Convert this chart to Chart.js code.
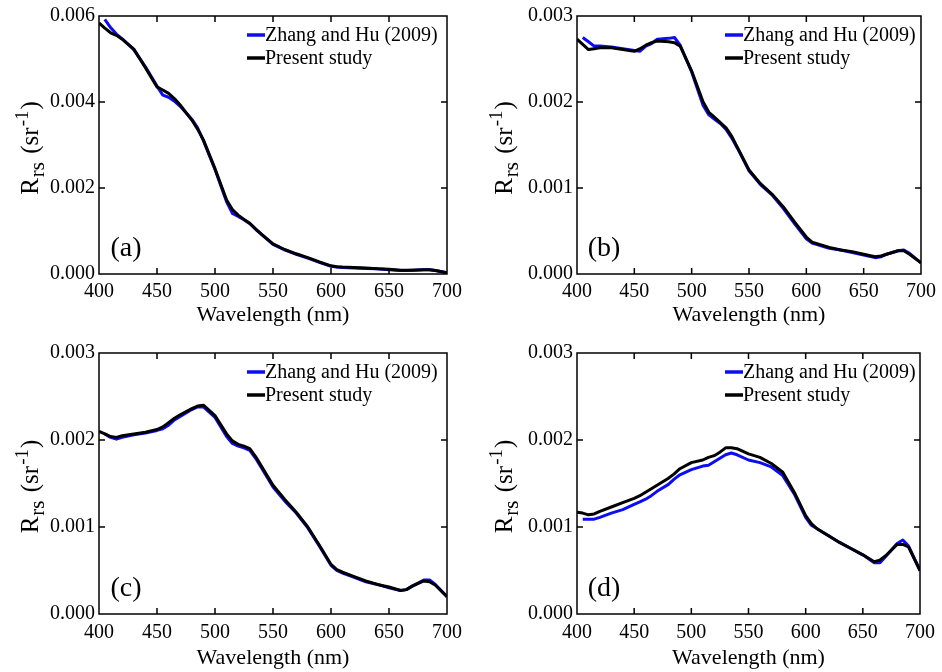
<!DOCTYPE html>
<html lang="en">
<head>
<meta charset="UTF-8">
<title>Rrs spectra</title>
<script src="https://cdn.jsdelivr.net/npm/chart.js"></script>
<style>
  body { margin: 0; background: #fff; }
  #wrap { position: relative; width: 942px; height: 672px; background: #fff; }
  .panel { position: absolute; width: 471px; height: 336px; }
  canvas { background: #fff; }
</style>
</head>
<body>
<div id="wrap">
  <div class="panel" style="left:0;top:0"><canvas id="pa" width="471" height="336"></canvas></div>
  <div class="panel" style="left:471px;top:0"><canvas id="pb" width="471" height="336"></canvas></div>
  <div class="panel" style="left:0;top:336px"><canvas id="pc" width="471" height="336"></canvas></div>
  <div class="panel" style="left:471px;top:336px"><canvas id="pd" width="471" height="336"></canvas></div>
</div>

<script>
// wavelengths (nm) shared by all panels
var wavelengths = [400,405,410,415,420,430,440,450,455,460,465,470,480,485,490,500,510,515,520,525,530,535,540,550,560,570,580,590,600,605,610,620,630,640,650,660,665,670,680,685,690,700]

var seriesNames = ['Zhang and Hu (2009)', 'Present study']
var xTicks = [400, 450, 500, 550, 600, 650, 700]

// (a)
var zhangA = [null,.00592,.00573,.00558,.00547,.00522,.00482,.00437,.00416,.00411,.00402,.00390,.00360,.00340,.00310,.00243,.00168,.00141,.00134,.00126,.00117,.00104,.00092,.00069,.00056,.00046,.00037,.00027,.00018,.00016,.00015,.00014,.00013,.00012,.00010,.00008,.00008,.00009,.00010,.00010,.00008,.00003]
var presentA = [.00584,.00572,.00561,.00555,.00546,.00523,.00480,.00435,.00428,.00420,.00408,.00393,.00358,.00337,.00312,.00245,.00172,.00150,.00137,.00127,.00118,.00105,.00093,.00070,.00057,.00047,.00038,.00028,.00019,.00017,.00016,.00015,.00014,.00012,.00011,.00009,.00009,.00009,.00010,.00010,.00008,.00003]

// (b)
var zhangB = [null,.00275,.00270,.00265,.00265,.00264,.00262,.00260,.00259,.00265,.00268,.00273,.00274,.00275,.00266,.00235,.00196,.00185,.00180,.00175,.00168,.00158,.00146,.00120,.00104,.00092,.00076,.00058,.00041,.00036,.00034,.00030,.00028,.00025,.00022,.00019,.00020,.00023,.00027,.00028,.00024,.00013]
var presentB = [.00273,.00267,.00261,.00262,.00263,.00263,.00261,.00259,.00262,.00266,.00269,.00271,.00270,.00269,.00265,.00236,.00200,.00188,.00182,.00176,.00170,.00160,.00147,.00121,.00105,.00093,.00078,.00060,.00043,.00037,.00035,.00031,.00028,.00026,.00023,.00020,.00021,.00023,.00027,.00027,.00023,.00013]

// (c)
var zhangC = [null,.00207,.00203,.00201,.00203,.00206,.00208,.00211,.00213,.00217,.00223,.00227,.00235,.00238,.00238,.00226,.00204,.00196,.00193,.00191,.00188,.00179,.00168,.00146,.00130,.00116,.00099,.00078,.00056,.00050,.00047,.00042,.00037,.00034,.00030,.00027,.00028,.00032,.00039,.00039,.00034,.00020]
var presentC = [.00210,.00207,.00204,.00203,.00205,.00207,.00209,.00212,.00215,.00220,.00225,.00229,.00236,.00239,.00240,.00228,.00207,.00199,.00195,.00193,.00190,.00181,.00170,.00148,.00132,.00117,.00100,.00079,.00057,.00051,.00048,.00043,.00038,.00034,.00031,.00027,.00028,.00032,.00038,.00037,.00033,.00020]

// (d)
var zhangD = [null,.00109,.00109,.00109,.00111,.00116,.00120,.00126,.00129,.00132,.00136,.00141,.00149,.00155,.00160,.00166,.00170,.00171,.00175,.00179,.00183,.00185,.00183,.00177,.00174,.00169,.00159,.00138,.00111,.00102,.00098,.00090,.00082,.00075,.00068,.00059,.00059,.00066,.00081,.00085,.00078,.00050]
var presentD = [.00117,.00116,.00114,.00115,.00118,.00123,.00128,.00133,.00136,.00140,.00144,.00148,.00156,.00161,.00167,.00174,.00177,.00180,.00182,.00186,.00191,.00191,.00190,.00184,.00180,.00173,.00163,.00140,.00113,.00104,.00098,.00090,.00082,.00075,.00068,.00060,.00062,.00067,.00080,.00080,.00077,.00050]

var SERIF = '"Liberation Serif", "Times New Roman", serif'
var BLUE = '#0c0cf5'

function pts(arr) {
    return wavelengths.map(function (w, i) { return { x: w, y: arr[i] } })
}

// frame, inward ticks, legend, panel letter and y title
var decor = {
    id: 'decor',
    afterDraw: function (chart, args, o) {
        var ctx = chart.ctx
        var a = chart.chartArea
        var xs = chart.scales.x, ys = chart.scales.y
        ctx.save()
        ctx.strokeStyle = '#000'
        ctx.lineWidth = 1.5
        ctx.strokeRect(a.left, a.top, a.right - a.left, a.bottom - a.top)
        ctx.beginPath()
        xs.ticks.forEach(function (t) {
            var px = xs.getPixelForValue(t.value)
            if (px <= a.left + 1 || px >= a.right - 1) return
            ctx.moveTo(px, a.bottom); ctx.lineTo(px, a.bottom - 6)
            ctx.moveTo(px, a.top); ctx.lineTo(px, a.top + 6)
        })
        ys.ticks.forEach(function (t) {
            var py = ys.getPixelForValue(t.value)
            if (py <= a.top + 1 || py >= a.bottom - 1) return
            ctx.moveTo(a.left, py); ctx.lineTo(a.left + 6, py)
            ctx.moveTo(a.right, py); ctx.lineTo(a.right - 6, py)
        })
        ctx.stroke()

        // legend
        var order = [0, 1]
        ctx.font = '20px ' + SERIF
        ctx.textBaseline = 'middle'
        ctx.textAlign = 'left'
        order.forEach(function (di, k) {
            var ds = chart.data.datasets[di]
            var y = a.top + 19 + k * 23
            var x0 = a.left + 148
            ctx.strokeStyle = ds.borderColor
            ctx.lineWidth = 3.5
            ctx.beginPath(); ctx.moveTo(x0, y); ctx.lineTo(x0 + 18, y); ctx.stroke()
            ctx.fillStyle = '#000'
            ctx.fillText(ds.label, x0 + 18, y + 1)
        })

        // panel letter
        ctx.font = '28px ' + SERIF
        ctx.textAlign = 'center'
        ctx.fillText(o.letter, a.left + 27, a.bottom - 25)

        // y title: R_rs (sr^-1)
        ctx.translate(o.titleX, (a.top + a.bottom) / 2 + 3)
        ctx.rotate(-Math.PI / 2)
        ctx.textBaseline = 'alphabetic'
        ctx.textAlign = 'left'
        var parts = [
            { t: 'R', f: 25, dy: 0, gap: 1 },
            { t: 'rs', f: 21, dy: 6, gap: 2 },
            { t: ' (sr', f: 25, dy: 0, gap: 1 },
            { t: '-1', f: 19, dy: -10, gap: 1 },
            { t: ')', f: 25, dy: 0, gap: 0 }
        ]
        var total = 0
        parts.forEach(function (p) {
            ctx.font = p.f + 'px ' + SERIF
            p.w = ctx.measureText(p.t).width
            total += p.w + p.gap
        })
        var x = -total / 2
        parts.forEach(function (p) {
            ctx.font = p.f + 'px ' + SERIF
            ctx.fillText(p.t, x, 8 + p.dy)
            x += p.w + p.gap
        })
        ctx.restore()
    }
}

function makePanel(id, zhang, present, yMax, yStep, letter, box) {
    var cfg = {
        type: 'line',
        data: {
            datasets: [
                { label: seriesNames[0], data: pts(zhang), borderColor: BLUE, borderWidth: 3, order: 1 },
                { label: seriesNames[1], data: pts(present), borderColor: '#000', borderWidth: 3, order: 0 }
            ]
        },
        options: {
            responsive: false,
            animation: false,
            events: [],
            elements: {
                point: { radius: 0 },
                line: { tension: 0, fill: false, borderJoinStyle: 'round', borderCapStyle: 'butt' }
            },
            layout: { padding: { left: 0, top: box.top, right: 471 - box.right, bottom: 0 } },
            plugins: {
                legend: { display: false },
                tooltip: { enabled: false },
                decor: { letter: letter, titleX: box.titleX }
            },
            scales: {
                x: {
                    type: 'linear', min: 400, max: 700,
                    afterBuildTicks: function (s) { s.ticks = xTicks.map(function (v) { return { value: v } }) },
                    grid: { display: false, drawTicks: false },
                    border: { display: false },
                    ticks: { color: '#000', font: { family: SERIF, size: 20 }, padding: box.xPad, maxRotation: 0, autoSkip: false },
                    title: { display: true, text: 'Wavelength (nm)', color: '#000', font: { family: SERIF, size: 22 }, padding: { top: 0, bottom: box.titlePad } },
                    afterFit: function (s) { s.height = 336 - box.bottom }
                },
                y: {
                    min: 0, max: yMax,
                    grid: { display: false, drawTicks: false },
                    border: { display: false },
                    ticks: {
                        stepSize: yStep, color: '#000', padding: 4,
                        font: { family: SERIF, size: 20 },
                        callback: function (v) { return Number(v).toFixed(3) }
                    },
                    afterFit: function (s) { s.width = box.left }
                }
            }
        },
        plugins: [decor]
    }
    return new Chart(document.getElementById(id), cfg)
}

makePanel('pa', zhangA, presentA, 0.006, 0.002, '(a)', { left: 99, right: 447, top: 13, bottom: 274, xPad: 6, titlePad: 8, titleX: 30 })
makePanel('pb', zhangB, presentB, 0.003, 0.001, '(b)', { left: 106, right: 454, top: 13, bottom: 274, xPad: 6, titlePad: 8, titleX: 33 })
makePanel('pc', zhangC, presentC, 0.003, 0.001, '(c)', { left: 99, right: 447, top: 17, bottom: 278, xPad: 7, titlePad: 1, titleX: 30 })
makePanel('pd', zhangD, presentD, 0.003, 0.001, '(d)', { left: 106, right: 454, top: 17, bottom: 278, xPad: 7, titlePad: 1, titleX: 33 })
</script>
</body>
</html>
